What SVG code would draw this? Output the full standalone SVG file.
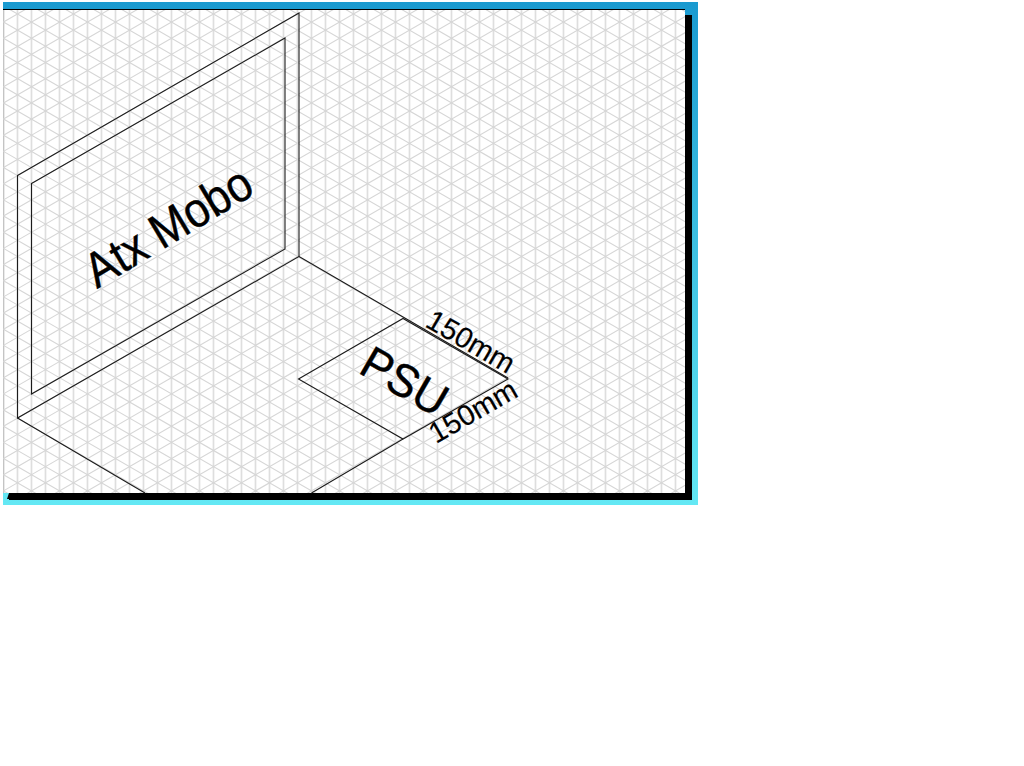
<svg xmlns="http://www.w3.org/2000/svg" width="1024" height="766" viewBox="0 0 1024 766">
<style>
.lbl{font-family:"Liberation Sans",Arial,sans-serif;fill:#000;stroke:#000;stroke-width:.45}
.dim{stroke-width:.2}
.ln{fill:none;stroke:#1c1c1c;stroke-width:1.1}
</style>
<defs>
<linearGradient id="frameFill" gradientUnits="userSpaceOnUse" x1="0" y1="2" x2="0" y2="505">
<stop offset="0" stop-color="#1a9ad0"/><stop offset="1" stop-color="#64e8f4"/>
</linearGradient>
<clipPath id="gridClip"><rect x="3" y="10" width="682" height="483"/></clipPath>
</defs>
<rect width="1024" height="766" fill="#fff"/>
<g id="frame">
<rect x="3" y="2" width="695" height="503" fill="url(#frameFill)"/>
<rect x="9" y="15" width="683" height="485" fill="#000"/>
<rect x="3" y="9" width="682" height="484" fill="#fff"/>
<rect x="3" y="9" width="682" height="1" fill="#000"/>
<path d="M9 493L7 499H9Z" fill="#000"/>
</g>
<g id="grid" clip-path="url(#gridClip)" fill="none">
<path stroke="#dedede" stroke-width="1.7" d="M17.5 9V493M31.5 9V493M45.5 9V493M59.5 9V493M73.5 9V493M87.5 9V493M101.5 9V493M115.5 9V493M129.5 9V493M143.5 9V493M157.5 9V493M171.5 9V493M185.5 9V493M199.5 9V493M213.5 9V493M227.5 9V493M241.5 9V493M255.5 9V493M269.5 9V493M283.5 9V493M297.5 9V493M311.5 9V493M325.5 9V493M339.5 9V493M353.5 9V493M367.5 9V493M381.5 9V493M395.5 9V493M409.5 9V493M423.5 9V493M437.5 9V493M451.5 9V493M465.5 9V493M479.5 9V493M493.5 9V493M507.5 9V493M521.5 9V493M535.5 9V493M549.5 9V493M563.5 9V493M577.5 9V493M591.5 9V493M605.5 9V493M619.5 9V493M633.5 9V493M647.5 9V493M661.5 9V493M675.5 9V493"/>
<path stroke="#c4c4c4" stroke-width="1.7" d="M3.5 9V493"/>
<path stroke="#d6d6d6" stroke-width="1.1" d="M3.5 -382.08l682 393.75M3.5 -365.92l682 393.75M3.5 -349.75l682 393.75M3.5 -333.59l682 393.75M3.5 -317.42l682 393.75M3.5 -301.25l682 393.75M3.5 -285.09l682 393.75M3.5 -268.92l682 393.75M3.5 -252.76l682 393.75M3.5 -236.59l682 393.75M3.5 -220.42l682 393.75M3.5 -204.26l682 393.75M3.5 -188.09l682 393.75M3.5 -171.93l682 393.75M3.5 -155.76l682 393.75M3.5 -139.59l682 393.75M3.5 -123.43l682 393.75M3.5 -107.26l682 393.75M3.5 -91.1l682 393.75M3.5 -74.93l682 393.75M3.5 -58.76l682 393.75M3.5 -42.6l682 393.75M3.5 -26.43l682 393.75M3.5 -10.27l682 393.75M3.5 5.9l682 393.75M3.5 22.07l682 393.75M3.5 38.23l682 393.75M3.5 54.4l682 393.75M3.5 70.56l682 393.75M3.5 86.73l682 393.75M3.5 102.9l682 393.75M3.5 119.06l682 393.75M3.5 135.23l682 393.75M3.5 151.39l682 393.75M3.5 167.56l682 393.75M3.5 183.73l682 393.75M3.5 199.89l682 393.75M3.5 216.06l682 393.75M3.5 232.22l682 393.75M3.5 248.39l682 393.75M3.5 264.56l682 393.75M3.5 280.72l682 393.75M3.5 296.89l682 393.75M3.5 313.05l682 393.75M3.5 329.22l682 393.75M3.5 345.39l682 393.75M3.5 361.55l682 393.75M3.5 377.72l682 393.75M3.5 393.88l682 393.75M3.5 410.05l682 393.75M3.5 426.22l682 393.75M3.5 442.38l682 393.75M3.5 458.55l682 393.75M3.5 474.71l682 393.75M3.5 490.88l682 393.75"/>
<path stroke="#d6d6d6" stroke-width="1.1" d="M3.5 5.9l682 -393.75M3.5 22.07l682 -393.75M3.5 38.23l682 -393.75M3.5 54.4l682 -393.75M3.5 70.56l682 -393.75M3.5 86.73l682 -393.75M3.5 102.9l682 -393.75M3.5 119.06l682 -393.75M3.5 135.23l682 -393.75M3.5 151.39l682 -393.75M3.5 167.56l682 -393.75M3.5 183.73l682 -393.75M3.5 199.89l682 -393.75M3.5 216.06l682 -393.75M3.5 232.22l682 -393.75M3.5 248.39l682 -393.75M3.5 264.56l682 -393.75M3.5 280.72l682 -393.75M3.5 296.89l682 -393.75M3.5 313.05l682 -393.75M3.5 329.22l682 -393.75M3.5 345.39l682 -393.75M3.5 361.55l682 -393.75M3.5 377.72l682 -393.75M3.5 393.88l682 -393.75M3.5 410.05l682 -393.75M3.5 426.22l682 -393.75M3.5 442.38l682 -393.75M3.5 458.55l682 -393.75M3.5 474.71l682 -393.75M3.5 490.88l682 -393.75M3.5 507.05l682 -393.75M3.5 523.21l682 -393.75M3.5 539.38l682 -393.75M3.5 555.54l682 -393.75M3.5 571.71l682 -393.75M3.5 587.88l682 -393.75M3.5 604.04l682 -393.75M3.5 620.21l682 -393.75M3.5 636.37l682 -393.75M3.5 652.54l682 -393.75M3.5 668.71l682 -393.75M3.5 684.87l682 -393.75M3.5 701.04l682 -393.75M3.5 717.2l682 -393.75M3.5 733.37l682 -393.75M3.5 749.54l682 -393.75M3.5 765.7l682 -393.75M3.5 781.87l682 -393.75M3.5 798.03l682 -393.75M3.5 814.2l682 -393.75M3.5 830.37l682 -393.75M3.5 846.53l682 -393.75M3.5 862.7l682 -393.75M3.5 878.86l682 -393.75"/>
</g>
<g id="connectors">
<path class="ln" d="M299 256.500L508 378M403 439L311.500 493M17.500 418L145 493"/>
</g>
<g id="mobo-outer"><path class="ln" d="M17.500 175.500L299 13V256.500L17.500 418Z"/></g>
<g id="mobo-inner"><path class="ln" d="M31.500 183.500L285 38V249L31.500 394Z"/>
<text class="lbl" font-size="49" transform="translate(97 289) rotate(-31) scale(.9 1)">Atx Mobo</text></g>
<g id="psu"><path class="ln" d="M298.500 379L403 318.500L508 379L403 439Z"/>
<text class="lbl" font-size="46" transform="translate(357 372) rotate(30) scale(.97 1)">PSU</text></g>
<g id="dim-top"><text class="lbl dim" font-size="29" transform="translate(424 326) rotate(30)">150mm</text></g>
<g id="dim-bottom"><text class="lbl dim" font-size="29" transform="translate(436 444) rotate(-30)">150mm</text></g>
</svg>
